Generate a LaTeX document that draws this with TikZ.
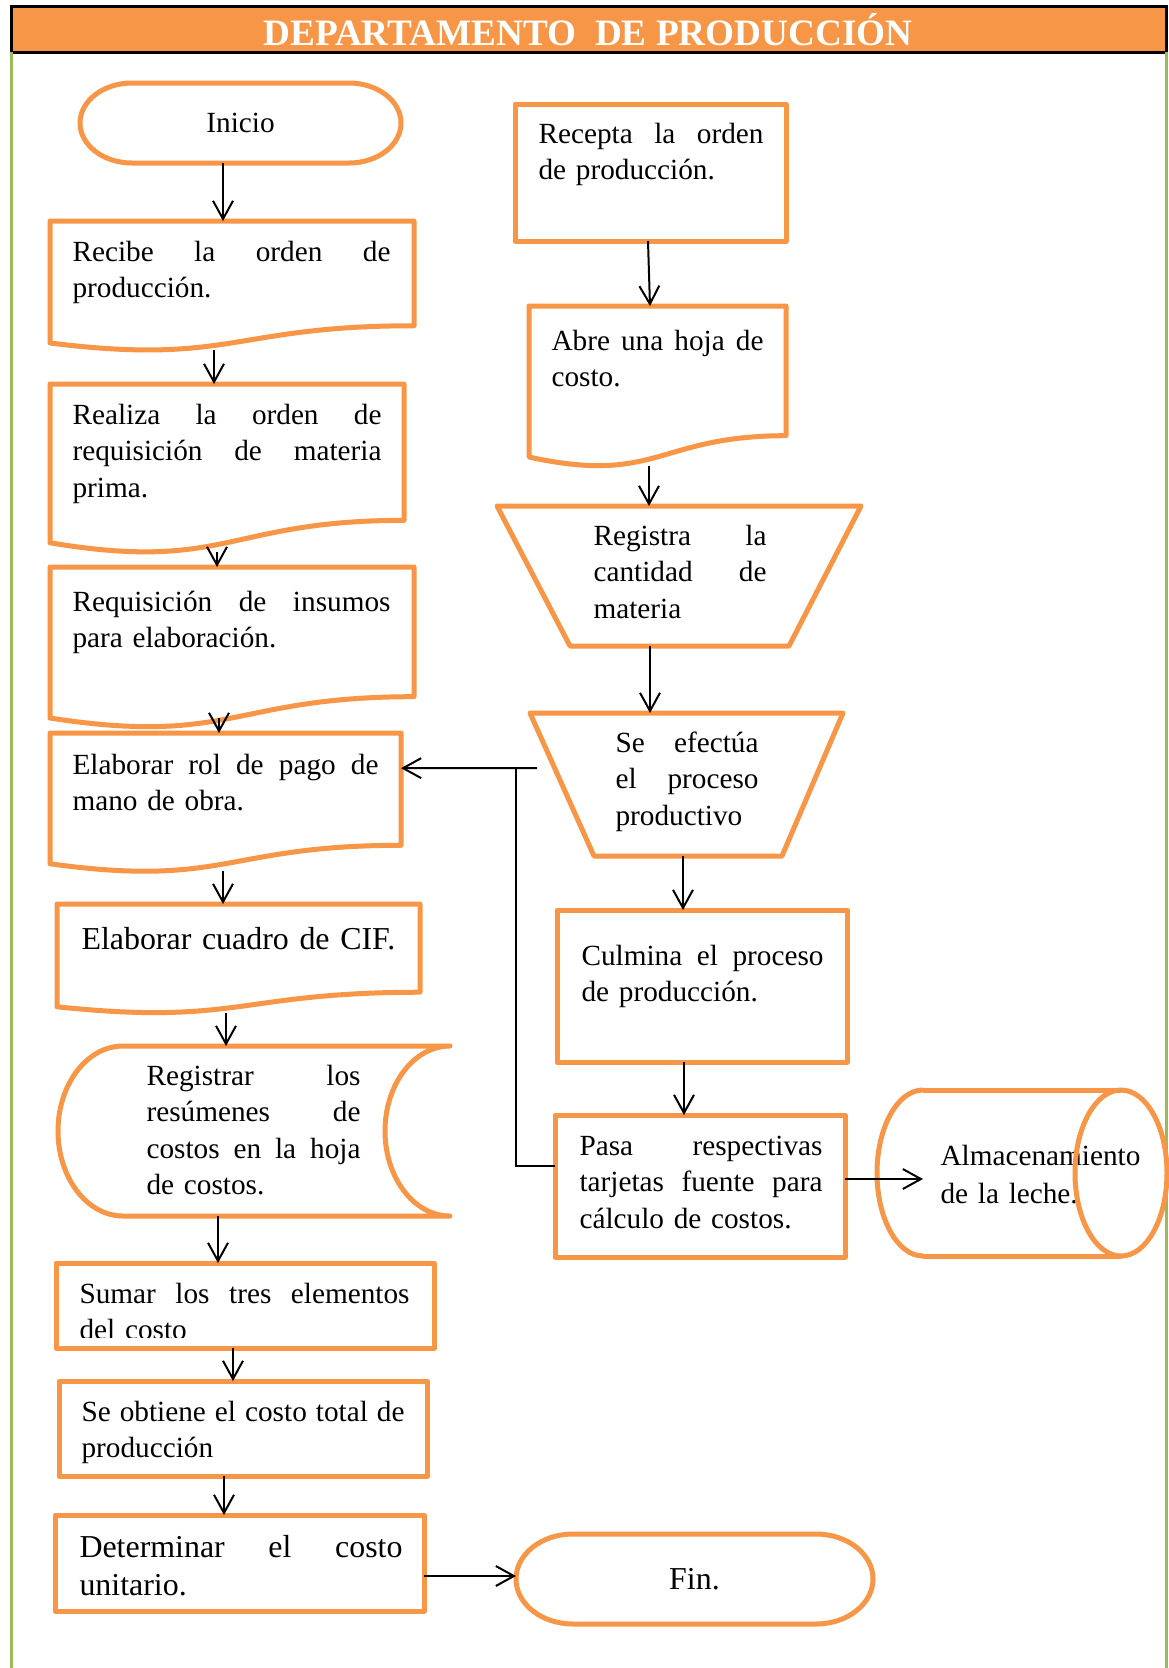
\documentclass[tikz,border=0pt]{standalone}
\usepackage{fontspec}
\setmainfont{Liberation Serif}
\usetikzlibrary{arrows.meta,calc,fit}
\newdimen\pxunit \pxunit=0.376pt
\definecolor{org}{HTML}{F79646}
\definecolor{grn}{HTML}{9BBB59}
\newcommand\jl[2]{\leavevmode\hbox to #1\pxunit{\spaceskip=0.25em plus 1fil\relax #2}}
\newcommand\docpath[4]{\draw[ob] (#1,#3) -- (#2,#3) -- (#2,{#3+0.802*#4}) .. controls ({(#1+#2)/2},{#3+0.802*#4}) and ({(#1+#2)/2},{#3+1.1075*#4}) .. (#1,{#3+0.934*#4}) -- cycle;}
\newcommand\docbox[5]{\node[bb, fit={(#2,#4) (#3,{#4+0.988*#5})}] (#1) {};}
\newcommand\termpath[5]{\draw[ob] ({#1+#5},#2) -- ({#3-#5},#2) .. controls ({#3-0.4477*#5},#2) and (#3,{#2+0.2239*(#4-#2)}) .. (#3,{(#2+#4)/2}) .. controls (#3,{#4-0.2239*(#4-#2)}) and ({#3-0.4477*#5},#4) .. ({#3-#5},#4) -- ({#1+#5},#4) .. controls ({#1+0.4477*#5},#4) and (#1,{#4-0.2239*(#4-#2)}) .. (#1,{(#2+#4)/2}) .. controls (#1,{#2+0.2239*(#4-#2)}) and ({#1+0.4477*#5},#2) .. ({#1+#5},#2) -- cycle;}
\tikzset{
 ob/.style={draw=org, line width=5\pxunit, line join=round},
 bb/.style={inner sep=0pt, outer sep=0pt, draw=none},
 rb/.style={inner sep=0pt, outer sep=0pt, draw=org, line width=5\pxunit, line join=round},
 txt/.style={anchor=base west, inner sep=0pt, align=left, font=\fontsize{11}{13.76}\selectfont},
 bigtxt/.style={txt, font=\fontsize{12}{14.3}\selectfont},
 con/.style={line width=0.75pt, black},
 arr/.style={con, -{Straight Barb[length=6.8pt,width=7.5pt]}},
 gl/.style={draw=grn, line width=3\pxunit}
}
\begin{document}
\begin{tikzpicture}[x=0.376pt,y=-0.376pt]
\fill[white] (0,0) rectangle (1168,1668);
\useasboundingbox (0,0) rectangle (1168,1668);
% title bar
\node[fit={(11,6)(1166,52)}, inner sep=0pt, outer sep=0pt, draw=black, line width=3\pxunit, fill=org] (bar) {};
\node[text=white, font=\fontsize{14}{16}\selectfont\bfseries] (title) at (588,30) {DEPARTAMENTO\ \ DE PRODUCCIÓN};
\draw[gl] (bar.south west) -- ++(0,1616);
\draw[gl] (bar.south east) -- ++(0,1616);
% Inicio
\termpath{80}{83}{401}{163}{52}
\node[bb, fit={(80,83)(401,163)}] (inicio) {};
\node[font=\fontsize{11}{13.76}\selectfont] (tinicio) at (inicio) {Inicio};
% D1
\docpath{50}{414}{221}{130.6}
\docbox{d1}{50}{414}{221}{130.6}
\node[txt, text width=318\pxunit] (td1) at (72,261) {\jl{318}{Recibe la orden de}\\producción.};
% D2
\docpath{50}{404}{384}{170}
\docbox{d2}{50}{404}{384}{170}
\node[txt, text width=309\pxunit] (td2) at (72,424) {\jl{309}{Realiza la orden de}\\\jl{309}{requisición de materia}\\prima.};
% D3
\docpath{50}{414}{567}{161.7}
\docbox{d3}{50}{414}{567}{161.7}
\node[txt, text width=318\pxunit] (td3) at (72,611) {\jl{318}{Requisición de insumos}\\para elaboración.};
% D4
\docpath{50}{401}{733}{140}
\docbox{d4}{50}{401}{733}{140}
\node[txt, text width=306\pxunit] (td4) at (72,774) {\jl{306}{Elaborar rol de pago de}\\mano de obra.};
% D5
\docpath{57}{420}{904}{110}
\docbox{d5}{57}{420}{904}{110}
\node[bigtxt, text width=330\pxunit] (td5) at (81,949) {Elaborar cuadro de CIF.};
% stored data
\draw[ob] (123,1046) -- (450,1046) .. controls (414.1,1046) and (385,1084.1) .. (385,1131) .. controls (385,1177.9) and (414.1,1216) .. (450,1216) -- (123,1216) .. controls (87.1,1216) and (58,1177.9) .. (58,1131) .. controls (58,1084.1) and (87.1,1046) .. (123,1046) -- cycle;
\node[bb, fit={(58,1046)(450,1216)}] (st) {};
\node[txt, text width=214\pxunit] (tst) at (146,1085) {\jl{214}{Registrar los}\\\jl{214}{resúmenes de}\\\jl{214}{costos en la hoja}\\de costos.};
% Sumar
\begin{scope}
\clip (56,1263) rectangle (434,1337);
\node[txt, text width=330\pxunit] (tsumar) at (79,1303) {\jl{330}{Sumar los tres elementos}\\del costo};
\end{scope}
\node[rb, fit={(56,1263)(434,1348)}] (sumar) {};
% Se obtiene
\node[rb, fit={(59,1381)(427,1476)}] (obt) {};
\node[txt, text width=323\pxunit] (tobt) at (81,1421) {\jl{323}{Se obtiene el costo total de}\\producción};
% Determinar
\node[rb, fit={(55,1515)(424,1611)}] (det) {};
\node[bigtxt, text width=323\pxunit] (tdet) at (79,1557) {\jl{323}{Determinar el costo}\\unitario.};
% Fin
\termpath{516}{1534}{873}{1624}{57}
\node[bb, fit={(516,1534)(873,1624)}] (fin) {};
\node[font=\fontsize{12}{14.3}\selectfont] (tfin) at (fin) {Fin.};
% R1
\node[rb, fit={(515,104)(786,241)}] (r1) {};
\node[txt, text width=225\pxunit] (tr1) at (538,143) {\jl{225}{Recepta la orden}\\de producción.};
% R2
\docpath{529}{786}{306}{161.7}
\docbox{r2}{529}{786}{306}{161.7}
\node[txt, text width=212\pxunit] (tr2) at (551,350) {\jl{212}{Abre una hoja de}\\costo.};
% R3
\draw[ob] (497,506) -- (861,506) -- (789,646) -- (570,646) -- cycle;
\node[bb, fit={(497,506)(861,646)}] (r3) {};
\node[txt, text width=173\pxunit] (tr3) at (593,545) {\jl{173}{Registra la}\\\jl{173}{cantidad de}\\materia};
% R4
\draw[ob] (530,713) -- (843,713) -- (782,856) -- (594,856) -- cycle;
\node[bb, fit={(530,713)(843,856)}] (r4) {};
\node[txt, text width=143\pxunit] (tr4) at (615,752) {\jl{143}{Se efectúa}\\\jl{143}{el proceso}\\productivo};
% R5
\node[rb, fit={(557,910)(847,1062)}] (r5) {};
\node[txt, text width=242\pxunit] (tr5) at (581,965) {\jl{242}{Culmina el proceso}\\de producción.};
% R6
\node[rb, fit={(555,1115)(845,1257)}] (r6) {};
\node[txt, text width=243\pxunit] (tr6) at (579,1155) {\jl{243}{Pasa respectivas}\\\jl{243}{tarjetas fuente para}\\cálculo de costos.};
% cylinder
\node[txt, text width=220\pxunit] (tcyl) at (940,1165) {Almacenamiento\\[0.6pt]de la leche.};
\draw[ob] (923,1090) -- (1121,1090);
\draw[ob] (923,1256) -- (1121,1256);
\draw[ob] (923,1090) .. controls (897.6,1090) and (877,1127.2) .. (877,1173) .. controls (877,1218.8) and (897.6,1256) .. (923,1256);
\draw[ob] (1121,1090) .. controls (1146.4,1090) and (1167,1127.2) .. (1167,1173) .. controls (1167,1218.8) and (1146.4,1256) .. (1121,1256) .. controls (1095.6,1256) and (1075,1218.8) .. (1075,1173) .. controls (1075,1127.2) and (1095.6,1090) .. (1121,1090) -- cycle;
\node[bb, fit={(877,1090)(1167,1256)}] (cyl) {};
% connectors left
\draw[arr] ($(inicio.south)+(-17.5,0)$) -- ($(d1.north)+(-9,0)$);
\draw[arr] ($(d1.south)+(-18,0)$) -- ($(d2.north)+(-13,0)$);
\draw[arr] ($(d2.south)+(-10,0)$) -- ($(d3.north)+(-15,0)$);
\draw[arr] ($(d3.south)+(-13,-9)$) -- ($(d4.north)+(-6.5,0)$);
\draw[arr] ($(d4.south)+(-2.5,0)$) -- ($(d5.north)+(-15.5,0)$);
\draw[arr] ($(d5.south)+(-12.5,0)$) -- ($(st.north)+(-28,0)$);
\draw[arr] ($(st.south)+(-36,0)$) -- ($(sumar.north)+(-27,0)$);
\draw[arr] ($(sumar.south)+(-12,0)$) -- ($(obt.north)+(-10,0)$);
\draw[arr] ($(obt.south)+(-19,0)$) -- ($(det.north)+(-15.5,0)$);
\draw[arr] ($(det.east)+(0,13)$) -- ($(fin.west)+(0,-3)$);
% connectors right
\draw[arr] ($(r1.south)+(-2.5,0)$) -- ($(r2.north)+(-7.5,0)$);
\draw[arr] ($(r2.south)+(-8.5,0)$) -- ($(r3.north)+(-30,0)$);
\draw[arr] ($(r3.south)+(-29,0)$) -- ($(r4.north)+(-36.5,0)$);
\draw[arr] ($(r4.south)+(-3.5,0)$) -- ($(r5.north)+(-19,0)$);
\draw[arr] ($(r5.south)+(-18,0)$) -- ($(r6.north)+(-16,0)$);
\draw[arr] ($(r6.east)+(0,-7)$) -- ($(cyl.west)+(46,6)$);
\draw[arr] ($(r4.west)+(7,-16.5)$) -- ($(d4.east)+(0,-34)$);
\coordinate (jn) at ($(d4.east)+(115,-34)$);
\draw[con] ($(r6.west)+(0,-20)$) -| (jn);
\end{tikzpicture}
\end{document}
